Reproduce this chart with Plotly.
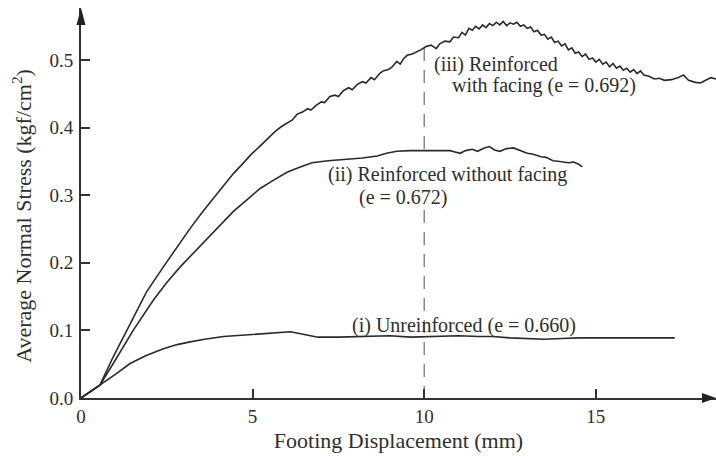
import plotly.graph_objects as go

# Footing displacement (mm) and average normal stress (kgf/cm^2) for each test
unreinf_x = [0, 0.55, 1.00, 1.43, 1.90, 2.40, 2.80, 3.18, 3.60, 4.15, 4.64, 5.22, 5.70, 6.10,
             6.40, 6.90, 7.50, 8.00, 8.50, 9.00, 9.60, 10.10, 10.60, 11.00, 11.60, 12.00,
             12.50, 13.00, 13.50, 14.00, 14.50, 15.50, 16.50, 17.30]
unreinf_y = [0, 0.019, 0.035, 0.051, 0.063, 0.073, 0.079, 0.083, 0.087, 0.091, 0.093, 0.095,
             0.097, 0.098, 0.095, 0.090, 0.090, 0.091, 0.092, 0.092, 0.090, 0.091, 0.091,
             0.092, 0.091, 0.091, 0.089, 0.088, 0.087, 0.088, 0.089, 0.089, 0.089, 0.089]

nofacing_x = [0, 0.55, 0.94, 1.52, 2.11, 2.50, 2.89, 3.30, 3.66, 4.05, 4.44, 4.85, 5.22, 5.60,
              6.00, 6.35, 6.73, 7.20, 7.70, 8.20, 8.63, 8.90, 9.20, 9.60, 10.10, 10.50, 10.75,
              10.90, 11.05, 11.20, 11.40, 11.55, 11.75, 11.90, 12.05, 12.20, 12.40, 12.60,
              12.80, 13.00, 13.15, 13.40, 13.55, 13.75, 13.95, 14.20, 14.35, 14.50, 14.60]
nofacing_y = [0, 0.019, 0.051, 0.100, 0.145, 0.171, 0.194, 0.216, 0.234, 0.256, 0.276, 0.294,
              0.310, 0.322, 0.334, 0.341, 0.348, 0.351, 0.353, 0.355, 0.358, 0.362, 0.365,
              0.366, 0.366, 0.366, 0.366, 0.364, 0.362, 0.366, 0.368, 0.365, 0.370, 0.372,
              0.367, 0.365, 0.369, 0.370, 0.366, 0.362, 0.361, 0.357, 0.356, 0.351, 0.350,
              0.348, 0.349, 0.346, 0.342]

facing_x = [0, 0.55, 0.94, 1.43, 1.91, 2.40, 2.80, 3.18, 3.55, 3.86, 4.15, 4.44, 4.70, 4.95,
            5.20, 5.45, 5.65, 5.85, 6.00, 6.15, 6.30, 6.45, 6.60, 6.70, 6.85, 7.00, 7.10, 7.25,
            7.40, 7.50, 7.65, 7.80, 7.90, 8.05, 8.20, 8.30, 8.45, 8.55, 8.70, 8.80, 8.95, 9.05,
            9.20, 9.30, 9.40, 9.50, 9.65, 9.80, 9.90, 10.05, 10.20, 10.35, 10.45, 10.60, 10.75,
            10.85, 11.00, 11.10, 11.20, 11.30, 11.40, 11.50, 11.60, 11.70, 11.80, 11.90, 12.00,
            12.10, 12.20, 12.30, 12.40, 12.50, 12.60, 12.70, 12.80, 12.90, 13.00, 13.10, 13.20,
            13.30, 13.40, 13.50, 13.60, 13.70, 13.80, 13.90, 14.00, 14.10, 14.20, 14.30, 14.40,
            14.50, 14.60, 14.70, 14.80, 14.90, 15.00, 15.10, 15.20, 15.30, 15.40, 15.50, 15.60,
            15.70, 15.80, 15.90, 16.00, 16.10, 16.20, 16.30, 16.40, 16.55, 16.70, 16.85, 17.00,
            17.20, 17.40, 17.55, 17.70, 17.90, 18.05, 18.20, 18.35, 18.50]
facing_y = [0, 0.019, 0.061, 0.110, 0.157, 0.194, 0.224, 0.251, 0.276, 0.295, 0.314, 0.332,
            0.346, 0.360, 0.372, 0.385, 0.394, 0.402, 0.407, 0.411, 0.420, 0.423, 0.428, 0.426,
            0.433, 0.438, 0.437, 0.446, 0.448, 0.446, 0.455, 0.459, 0.456, 0.464, 0.468, 0.466,
            0.474, 0.471, 0.480, 0.484, 0.486, 0.489, 0.498, 0.494, 0.502, 0.507, 0.509, 0.512,
            0.515, 0.520, 0.522, 0.517, 0.524, 0.528, 0.527, 0.534, 0.533, 0.541, 0.537, 0.547,
            0.544, 0.550, 0.546, 0.552, 0.548, 0.554, 0.551, 0.556, 0.552, 0.557, 0.551, 0.555,
            0.553, 0.556, 0.550, 0.552, 0.547, 0.549, 0.542, 0.544, 0.537, 0.538, 0.531, 0.534,
            0.526, 0.528, 0.521, 0.524, 0.515, 0.518, 0.510, 0.512, 0.505, 0.509, 0.501, 0.503,
            0.497, 0.501, 0.494, 0.497, 0.490, 0.495, 0.488, 0.491, 0.485, 0.488, 0.482, 0.486,
            0.480, 0.484, 0.478, 0.476, 0.472, 0.473, 0.470, 0.471, 0.474, 0.478, 0.470, 0.467,
            0.466, 0.470, 0.474, 0.472]

# reference line at 10 mm, broken where the labels sit
ref_x = [10, 10, None, 10, 10]
ref_y = [0.518, 0.366, None, 0.278, 0]

x_ticks = [0, 5, 10, 15]
y_ticks = [0.0, 0.1, 0.2, 0.3, 0.4, 0.5]

FONT = "Liberation Serif"
INK = "#2a2a2a"
TXT = "#2e2e2e"

fig = go.Figure()
fig.add_trace(go.Scatter(x=ref_x, y=ref_y, mode="lines",
                         line=dict(color="#888888", width=1.5, dash="13px,9px")))
for xs, ys in [(unreinf_x, unreinf_y), (nofacing_x, nofacing_y), (facing_x, facing_y)]:
    fig.add_trace(go.Scatter(x=xs, y=ys, mode="lines",
                             line=dict(color=INK, width=1.6)))

labels = [
    ("(iii) Reinforced", 10.23, 0.494),
    ("with facing (e = 0.692)", 10.76, 0.462),
    ("(ii) Reinforced without facing", 7.14, 0.330),
    ("(e = 0.672)", 8.05, 0.296),
    ("(i) Unreinforced (e = 0.660)", 7.84, 0.108),
]
for txt, lx, ly in labels:
    fig.add_annotation(x=lx, y=ly, text=txt, showarrow=False, xanchor="left",
                       yanchor="middle", font=dict(family=FONT, size=20, color=TXT))

# y axis title
fig.add_annotation(xref="paper", yref="paper", x=0, y=0.467, xshift=-59,
                   text="Average Normal Stress (kgf/cm<sup>2</sup>)",
                   textangle=-90, showarrow=False, xanchor="center", yanchor="middle",
                   font=dict(family=FONT, size=22, color=TXT))

# arrowheads at the ends of both axes
fig.add_shape(type="path", xref="paper", yref="paper", xsizemode="pixel", ysizemode="pixel",
              xanchor=1, yanchor=0, path="M 0 0 L -14 5 L -14 -5 Z",
              fillcolor="#222222", line=dict(width=0))
fig.add_shape(type="path", xref="paper", yref="paper", xsizemode="pixel", ysizemode="pixel",
              xanchor=0, yanchor=1, path="M 0 0 L -4.5 -17 L 4.5 -17 Z",
              fillcolor="#222222", line=dict(width=0))

axis_common = dict(showgrid=False, zeroline=False, showline=True, linecolor="#333333",
                   linewidth=2, ticks="inside", ticklen=9, tickwidth=1.5, tickcolor="#333333",
                   tickfont=dict(family=FONT, size=19, color=TXT))

fig.update_xaxes(range=[0, 18.5], tickvals=x_ticks, ticktext=[str(v) for v in x_ticks],
                 title=dict(text="Footing Displacement (mm)", standoff=7,
                            font=dict(family=FONT, size=22, color=TXT)),
                 **axis_common)
fig.update_yaxes(range=[0, 0.577], tickvals=y_ticks, ticktext=[f"{v:.1f}" for v in y_ticks],
                 ticklabelstandoff=2, **axis_common)

fig.update_layout(width=716, height=456, margin=dict(l=81, r=0, t=8, b=58),
                  paper_bgcolor="white", plot_bgcolor="white", showlegend=False)

fig.write_html("out.html")
